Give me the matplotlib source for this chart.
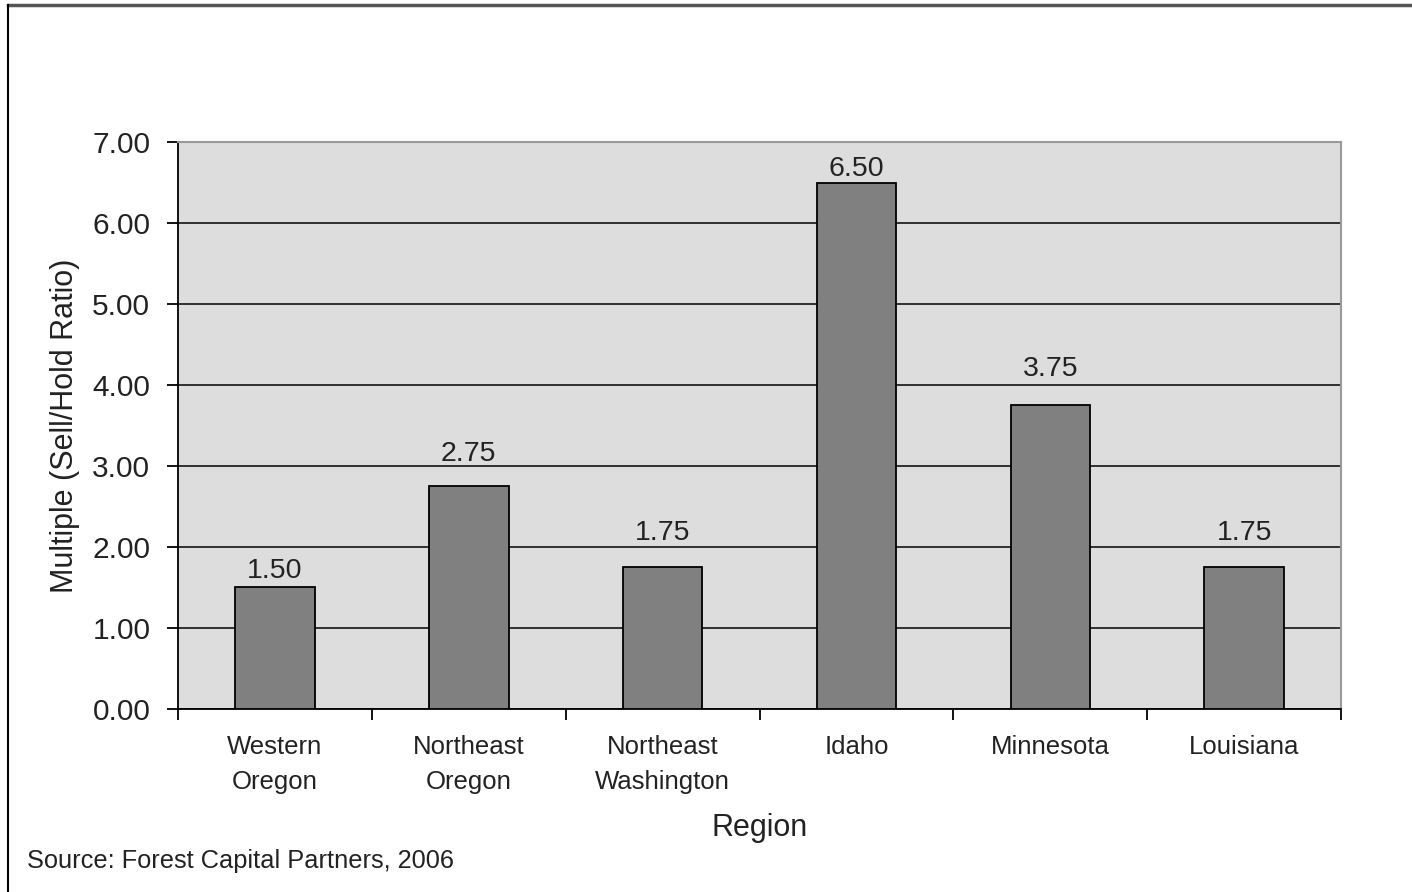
import numpy as np
import matplotlib.pyplot as plt
from matplotlib.lines import Line2D

regions = ["Western\nOregon", "Northeast\nOregon", "Northeast\nWashington",
           "Idaho", "Minnesota", "Louisiana"]
multiples = [1.50, 2.75, 1.75, 6.50, 3.75, 1.75]
yticks = [0, 1, 2, 3, 4, 5, 6, 7]

# label distance above each bar (points), as placed in the original
label_gap = [12, 23, 25, 10, 26, 25]

plt.rcParams['font.family'] = ['Liberation Sans', 'DejaVu Sans']
txt = '#222222'

fig = plt.figure(figsize=(14.12, 8.92), dpi=100)
ax = fig.add_axes([0.1261, 0.2052, 0.8237, 0.6356])
ax.set_facecolor('#dddddd')

x = np.arange(len(regions))
ax.bar(x, multiples, width=0.41, color='#808080', edgecolor='black', linewidth=1.3, zorder=3)
for xi, v, g in zip(x, multiples, label_gap):
    ax.annotate("%.2f" % v, (xi, v), xytext=(0, g), textcoords='offset points',
                ha='center', va='center', fontsize=20.5, color=txt)

ax.set_ylim(0, 7)
ax.set_xlim(-0.5, len(regions) - 0.5)
ax.set_yticks(yticks)
ax.set_yticklabels(["%.2f" % t for t in yticks], fontsize=21.5, color=txt)
ax.yaxis.grid(True, color='#222222', linewidth=1.3, zorder=0)
ax.set_axisbelow(True)

# category labels between boundary ticks
ax.set_xticks(np.arange(len(regions) + 1) - 0.5)
ax.set_xticklabels([])
ax.set_xticks(x, minor=True)
ax.set_xticklabels(regions, minor=True, fontsize=18.5, color=txt, linespacing=1.55)
ax.tick_params(axis='x', which='minor', length=0, pad=19)
ax.tick_params(axis='x', which='major', length=8, width=1.3)
ax.tick_params(axis='y', length=8, width=1.3, pad=12)

for s in ['top', 'right']:
    ax.spines[s].set_color('#999999')
    ax.spines[s].set_linewidth(1.5)
for s in ['left', 'bottom']:
    ax.spines[s].set_color('black')
    ax.spines[s].set_linewidth(1.3)

ax.set_ylabel("Multiple (Sell/Hold Ratio)", fontsize=22, color=txt, labelpad=9)
fig.text(0.5378, 0.0717, "Region", fontsize=22, color=txt, ha='center', va='center')
fig.text(0.019, 0.035, "Source: Forest Capital Partners, 2006", fontsize=18.3,
         color=txt, ha='left', va='center')

# outer frame
fig.add_artist(Line2D([0.0057, 1.0], [0.9944, 0.9944], transform=fig.transFigure,
                      color='#555555', linewidth=2.5))
fig.add_artist(Line2D([0.0057, 0.0057], [0.0, 0.9944], transform=fig.transFigure,
                      color='black', linewidth=1.5))

fig.savefig('out.png', dpi=100)
